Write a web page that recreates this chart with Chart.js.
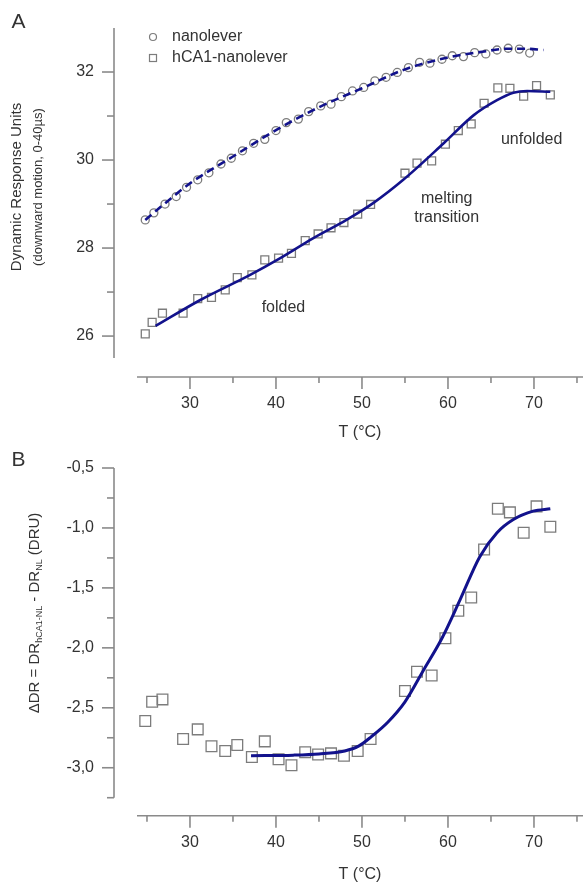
<!DOCTYPE html>
<html>
<head>
<meta charset="utf-8">
<script src="https://cdn.jsdelivr.net/npm/chart.js@4.4.1/dist/chart.umd.min.js"></script>
<style>
html,body{margin:0;padding:0;background:#ffffff;}
#wrap{position:relative;width:583px;height:884px;overflow:hidden;}
canvas{position:absolute;left:0;}
</style>
</head>
<body>
<div id="wrap">
<canvas id="cA" width="583" height="442" style="top:0px"></canvas>
<canvas id="cB" width="583" height="442" style="top:442px"></canvas>
</div>
<script>
// ---------- DATA ----------
// Panel A: nanolever (circles)
const T_NL = [24.8,25.8,27.1,28.4,29.6,30.9,32.2,33.6,34.8,36.1,37.4,38.7,40.0,41.2,42.6,43.8,45.2,46.4,47.6,48.9,50.2,51.5,52.8,54.1,55.4,56.7,57.9,59.3,60.5,61.8,63.1,64.4,65.7,67.0,68.3,69.5];
const DR_NL = [28.64,28.80,29.00,29.17,29.38,29.55,29.71,29.91,30.04,30.21,30.38,30.47,30.67,30.85,30.93,31.10,31.23,31.27,31.44,31.57,31.65,31.80,31.88,31.99,32.10,32.22,32.20,32.29,32.37,32.35,32.44,32.41,32.50,32.54,32.52,32.43];
// Panel A: hCA1-nanolever (squares); the same temperatures are used in panel B
const T_SQ = [24.8,25.6,26.8,29.2,30.9,32.5,34.1,35.5,37.2,38.7,40.3,41.8,43.4,44.9,46.4,47.9,49.5,51.0,55.0,56.4,58.1,59.7,61.2,62.7,64.2,65.8,67.2,68.8,70.3,71.9];
const DR_HCA = [26.05,26.31,26.52,26.52,26.85,26.88,27.05,27.33,27.39,27.73,27.77,27.88,28.17,28.32,28.46,28.58,28.77,28.99,29.70,29.93,29.98,30.36,30.67,30.82,31.29,31.64,31.63,31.45,31.69,31.48];
// Fit curves, panel A
const FIT_NL_T = [24.8,27,30,35,40,45,50,55,60,64,67,69,71.1];
const FIT_NL_V = [28.64,29.0,29.47,30.08,30.68,31.2,31.63,32.06,32.33,32.46,32.53,32.53,32.50];
const FIT_HCA_T = [26.0,31.2,37.0,40.5,44.3,48.2,51.3,54.8,59.5,63.0,65.7,67.6,69.2,71.9];
const FIT_HCA_V = [26.23,26.82,27.39,27.77,28.22,28.64,29.02,29.55,30.38,31.02,31.36,31.53,31.57,31.55];
// Panel B: delta DR (squares) and fit
const DDR = [-2.61,-2.45,-2.43,-2.76,-2.68,-2.82,-2.86,-2.81,-2.91,-2.78,-2.93,-2.98,-2.87,-2.89,-2.88,-2.90,-2.86,-2.76,-2.36,-2.20,-2.23,-1.92,-1.69,-1.58,-1.18,-0.84,-0.87,-1.04,-0.82,-0.99];
const FIT_B_T = [37.1,42,45,48,49.6,51.1,53,55,57.2,59.3,61.4,63.7,65.7,67.6,69.9,71.9];
const FIT_B_V = [-2.90,-2.895,-2.885,-2.86,-2.82,-2.74,-2.62,-2.45,-2.18,-1.92,-1.60,-1.24,-1.04,-0.93,-0.86,-0.84];
// Ticks
const X_MAJOR = [30,40,50,60,70];
const X_MINOR = [25,35,45,55,65,75];
const Y_MAJOR_A = [26,28,30,32];
const Y_MINOR_A = [27,29,31];
const Y_MAJOR_B = [-3.0,-2.5,-2.0,-1.5,-1.0,-0.5];
const Y_MINOR_B = [-3.25,-2.75,-2.25,-1.75,-1.25,-0.75];
// Labels
const LEGEND = ['nanolever','hCA1-nanolever'];
const NOTES_A = [
  {text:'folded', t:40.87, v:26.64},
  {text:'melting', t:59.85, v:29.13},
  {text:'transition', t:59.85, v:28.70},
  {text:'unfolded', t:69.73, v:30.47}
];

// ---------- STYLE ----------
const FONT = '"Liberation Sans", Arial, Helvetica, sans-serif';
const TEXT = '#333333';
const AXIS = '#8a8a8a';
const NAVY = '#12128c';
const MARK = '#7c7c7c';

function pts(xs, ys){ return xs.map((x,i)=>({x:x, y:ys[i]})); }

const deco = {
  id: 'deco',
  afterDraw(chart, args, o) {
    const {ctx, chartArea: ca} = chart;
    const xs = chart.scales.x, ys = chart.scales.y;
    ctx.save();
    ctx.strokeStyle = AXIS; ctx.lineWidth = 1.6; ctx.lineCap = 'butt';
    // y axis line (detached from the x axis)
    const ax = ca.left - o.yGap;
    ctx.beginPath();
    ctx.moveTo(ax, ys.getPixelForValue(o.yLine[0]));
    ctx.lineTo(ax, ys.getPixelForValue(o.yLine[1]));
    ctx.stroke();
    o.yMajor.forEach(v => { const p = ys.getPixelForValue(v); ctx.beginPath(); ctx.moveTo(ax, p); ctx.lineTo(ax - 12, p); ctx.stroke(); });
    o.yMinor.forEach(v => { const p = ys.getPixelForValue(v); ctx.beginPath(); ctx.moveTo(ax, p); ctx.lineTo(ax - 7, p); ctx.stroke(); });
    // x axis line
    const ay = ca.bottom;
    ctx.beginPath(); ctx.moveTo(ca.left, ay); ctx.lineTo(ca.right, ay); ctx.stroke();
    X_MAJOR.forEach(v => { const p = xs.getPixelForValue(v); ctx.beginPath(); ctx.moveTo(p, ay); ctx.lineTo(p, ay + 12); ctx.stroke(); });
    X_MINOR.forEach(v => { const p = xs.getPixelForValue(v); ctx.beginPath(); ctx.moveTo(p, ay); ctx.lineTo(p, ay + 6); ctx.stroke(); });

    ctx.fillStyle = TEXT;
    // panel letter
    ctx.font = '21px ' + FONT; ctx.textAlign = 'center'; ctx.textBaseline = 'middle';
    ctx.fillText(o.letter, o.letterPos[0], o.letterPos[1]);

    // y title (rich text, rotated)
    ctx.save();
    ctx.translate(o.titlePos[0], o.titlePos[1]);
    ctx.rotate(-Math.PI/2);
    o.titleLines.forEach(line => {
      let total = 0;
      line.segs.forEach(s => { ctx.font = s.size + 'px ' + FONT; total += ctx.measureText(s.t).width; });
      let x0 = -total/2;
      ctx.textAlign = 'left'; ctx.textBaseline = 'middle';
      line.segs.forEach(s => {
        ctx.font = s.size + 'px ' + FONT;
        ctx.fillText(s.t, x0, line.dy + (s.sub ? 5 : 0));
        x0 += ctx.measureText(s.t).width;
      });
    });
    ctx.restore();

    // annotations at data coordinates
    ctx.font = '16px ' + FONT; ctx.textAlign = 'center'; ctx.textBaseline = 'middle';
    (o.notes || []).forEach(n => ctx.fillText(n.text, xs.getPixelForValue(n.t), ys.getPixelForValue(n.v)));

    // legend
    if (o.legend) {
      const lx = 153, ly = [37, 58];
      ctx.strokeStyle = MARK; ctx.lineWidth = 1.2;
      ctx.beginPath(); ctx.arc(lx, ly[0], 3.5, 0, Math.PI*2); ctx.stroke();
      ctx.strokeRect(lx - 3.5, ly[1] - 3.5, 7, 7);
      ctx.fillStyle = TEXT; ctx.font = '16px ' + FONT; ctx.textAlign = 'left';
      ctx.fillText(LEGEND[0], 172, ly[0]);
      ctx.fillText(LEGEND[1], 172, ly[1]);
    }
    ctx.restore();
  }
};

function xScale(h) {
  return {
    type: 'linear', min: 23.84, max: 75.7, bounds: 'data',
    grid: {display: false, drawTicks: false}, border: {display: false},
    afterBuildTicks: s => { s.ticks = X_MAJOR.map(v => ({value: v})); },
    afterFit: s => { s.height = h; s.paddingLeft = 0; s.paddingRight = 0; },
    ticks: {autoSkip: false, padding: 17, color: TEXT, font: {family: FONT, size: 16}, maxRotation: 0},
    title: {display: true, text: 'T (°C)', color: TEXT, font: {family: FONT, size: 16}, padding: {top: 0, bottom: 0}}
  };
}
function yScale(min, max, major, fmt) {
  return {
    type: 'linear', min: min, max: max, bounds: 'data',
    grid: {display: false, drawTicks: false}, border: {display: false},
    afterBuildTicks: s => { s.ticks = major.map(v => ({value: v})); },
    afterFit: s => { s.width = 137; s.paddingTop = 0; s.paddingBottom = 0; },
    ticks: {autoSkip: false, padding: 43, color: TEXT, font: {family: FONT, size: 16}, callback: fmt}
  };
}
const common = {
  responsive: false, animation: false, devicePixelRatio: 1, events: [],
  plugins: {legend: {display: false}, tooltip: {enabled: false}}
};

const markerStyle = (style, r) => ({
  showLine: false, pointStyle: style, pointRadius: r, pointBorderWidth: 1.3,
  pointBorderColor: MARK, pointBackgroundColor: 'rgba(0,0,0,0)', borderColor: MARK, backgroundColor: 'rgba(0,0,0,0)', order: 2, clip: 12
});
const fitStyle = (dash, w) => ({
  showLine: true, pointRadius: 0, borderColor: NAVY, borderWidth: w, borderDash: dash,
  cubicInterpolationMode: 'monotone', fill: false, order: 1, clip: 12
});

new Chart(document.getElementById('cA'), {
  type: 'scatter',
  data: {
    datasets: [
      Object.assign({label: 'nanolever fit', data: pts(FIT_NL_T, FIT_NL_V)}, fitStyle([8,5], 2.6)),
      Object.assign({label: 'hCA1-nanolever fit', data: pts(FIT_HCA_T, FIT_HCA_V)}, fitStyle([], 2.6)),
      Object.assign({label: LEGEND[0], data: pts(T_NL, DR_NL)}, markerStyle('circle', 4)),
      Object.assign({label: LEGEND[1], data: pts(T_SQ, DR_HCA)}, markerStyle('rect', 5.6))
    ]
  },
  options: Object.assign({}, common, {
    layout: {autoPadding: false, padding: {top: 28, left: 0, right: 0, bottom: 0}},
    scales: {
      x: xScale(65),
      y: yScale(25.07, 33, Y_MAJOR_A, v => String(v))
    },
    plugins: Object.assign({}, common.plugins, {
      deco: {
        yGap: 23, yLine: [25.5, 33], yMajor: Y_MAJOR_A, yMinor: Y_MINOR_A,
        letter: 'A', letterPos: [18.5, 22.5], legend: true, notes: NOTES_A,
        titlePos: [0, 187],
        titleLines: [
          {dy: 17, segs: [{t: 'Dynamic Response Units', size: 15}]},
          {dy: 38, segs: [{t: '(downward motion, 0-40µs)', size: 13}]}
        ]
      }
    })
  }),
  plugins: [deco]
});

new Chart(document.getElementById('cB'), {
  type: 'scatter',
  data: {
    datasets: [
      Object.assign({label: 'sigmoid fit', data: pts(FIT_B_T, FIT_B_V)}, fitStyle([], 3)),
      Object.assign({label: 'ΔDR', data: pts(T_SQ, DDR)}, markerStyle('rect', 7.6))
    ]
  },
  options: Object.assign({}, common, {
    layout: {autoPadding: false, padding: {top: 26, left: 0, right: 0, bottom: 0}},
    scales: {
      x: xScale(68.3),
      y: yScale(-3.40, -0.5, Y_MAJOR_B, v => (v < 0 ? '-' : '') + Math.abs(v).toFixed(1).replace('.', ','))
    },
    plugins: Object.assign({}, common.plugins, {
      deco: {
        yGap: 23, yLine: [-3.25, -0.5], yMajor: Y_MAJOR_B, yMinor: Y_MINOR_B,
        letter: 'B', letterPos: [18.5, 18], legend: false, notes: [],
        titlePos: [0, 171],
        titleLines: [
          {dy: 35, segs: [
            {t: 'ΔDR = DR', size: 15},
            {t: 'hCA1-NL', size: 9, sub: true},
            {t: ' - DR', size: 15},
            {t: 'NL', size: 9, sub: true},
            {t: ' (DRU)', size: 15}
          ]}
        ]
      }
    })
  }),
  plugins: [deco]
});
</script>
</body>
</html>
